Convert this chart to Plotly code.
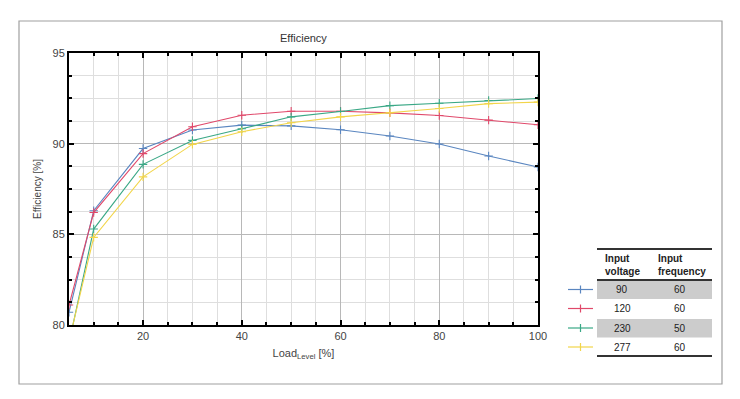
import plotly.graph_objects as go

load = [5, 10, 20, 30, 40, 50, 60, 70, 80, 90, 100]
eff_90 = [80.7, 86.3, 89.73, 90.75, 91.02, 90.98, 90.77, 90.42, 89.98, 89.32, 88.71]
eff_120 = [81.1, 86.2, 89.45, 90.93, 91.57, 91.79, 91.79, 91.7, 91.55, 91.3, 91.04]
eff_230 = [79.0, 85.29, 88.86, 90.18, 90.82, 91.48, 91.77, 92.1, 92.23, 92.38, 92.49]
eff_277 = [79.1, 84.83, 88.17, 89.96, 90.66, 91.15, 91.48, 91.7, 91.94, 92.21, 92.29]

voltages = ["90", "120", "230", "277"]
frequencies = ["60", "60", "50", "60"]
colors = ["#5a86c0", "#e0486a", "#3aa886", "#f2d54a"]
series = [eff_90, eff_120, eff_230, eff_277]

OFF = 8  # browser body margin
W, H = 740 - OFF, 399 - OFF
L, R, T, B = 69 - OFF, 538 - OFF, 53 - OFF, 325 - OFF


def px(x):
    return (x - OFF - L) / (R - L)


def py(y):
    return (B - (y - OFF)) / (B - T)


fig = go.Figure()
for vals, col, v in zip(series, colors, voltages):
    fig.add_trace(go.Scatter(
        x=load, y=vals, mode="lines+markers", name=v,
        line=dict(color=col, width=1.1),
        marker=dict(symbol="cross-thin", size=6, line=dict(color=col, width=1.1)),
        cliponaxis=True, showlegend=False))

font = "Liberation Sans, Arial, sans-serif"
shapes = []
annotations = []


def note(text, x, y, size=10, color="#222", xanchor="center", align="center"):
    annotations.append(dict(text=text, xref="paper", yref="paper", x=px(x), y=py(y),
                            xanchor=xanchor, yanchor="middle", align=align,
                            showarrow=False, font=dict(family=font, size=size, color=color)))


# outer frame
shapes.append(dict(type="rect", xref="paper", yref="paper",
                   x0=px(19), x1=px(722), y0=py(384), y1=py(21),
                   line=dict(color="#a0a0a0", width=1.2), layer="below"))

# legend table
tx0, tx1 = 597, 712
for yy in [249, 280, 356]:
    shapes.append(dict(type="line", xref="paper", yref="paper",
                       x0=px(tx0), x1=px(tx1), y0=py(yy), y1=py(yy),
                       line=dict(color="#333333", width=2)))
row_y = [289.5, 308.5, 328, 347]
for i, (v, f, col) in enumerate(zip(voltages, frequencies, colors)):
    if i % 2 == 0:
        shapes.append(dict(type="rect", xref="paper", yref="paper",
                           x0=px(tx0), x1=px(tx1), y0=py(row_y[i] + 9.5), y1=py(row_y[i] - 9),
                           fillcolor="#cccccc", line=dict(width=0), layer="below"))
    shapes.append(dict(type="line", xref="paper", yref="paper",
                       x0=px(568), x1=px(593), y0=py(row_y[i]), y1=py(row_y[i]),
                       line=dict(color=col, width=1.2)))
    shapes.append(dict(type="line", xref="paper", yref="paper",
                       x0=px(580.5), x1=px(580.5), y0=py(row_y[i] - 4), y1=py(row_y[i] + 4),
                       line=dict(color=col, width=1.2)))
    note(v, 622, row_y[i])
    note(f, 680, row_y[i])
note("<b>Input<br>voltage</b>", 603, 265, xanchor="left", align="left")
note("<b>Input<br>frequency</b>", 656, 265, xanchor="left", align="left")

# chart title
note("Efficiency", 303, 38, size=11, color="#333")

fig.update_layout(
    width=W, height=H,
    margin=dict(l=L, r=W - R, t=T, b=H - B),
    paper_bgcolor="white", plot_bgcolor="white",
    font=dict(family=font, size=11, color="#444"),
    shapes=shapes, annotations=annotations,
    xaxis=dict(range=[5, 100], tick0=0, dtick=20, ticks="inside", ticklen=5,
               tickcolor="black", tickwidth=2, showline=True, linecolor="black",
               linewidth=2, mirror="ticks", showgrid=True, gridcolor="#b8b8b8",
               gridwidth=1, zeroline=False,
               minor=dict(dtick=5, tick0=0, ticks="inside", ticklen=3, tickcolor="black",
                          showgrid=True, gridcolor="#dedede"),
               title=dict(text="Load<sub>Level</sub> [%]", standoff=8,
                          font=dict(family=font, size=11, color="#444"))),
    yaxis=dict(range=[80, 95], tick0=80, dtick=5, ticks="inside", ticklen=5,
               tickcolor="black", tickwidth=2, showline=True, linecolor="black",
               linewidth=2, mirror="ticks", showgrid=True, gridcolor="#b8b8b8",
               gridwidth=1, zeroline=False,
               minor=dict(dtick=1.25, tick0=80, ticks="inside", ticklen=3, tickcolor="black",
                          showgrid=True, gridcolor="#dedede"),
               title=dict(text="Efficiency [%]", standoff=9,
                          font=dict(family=font, size=10, color="#444"))),
)

fig.write_html("out.html")
